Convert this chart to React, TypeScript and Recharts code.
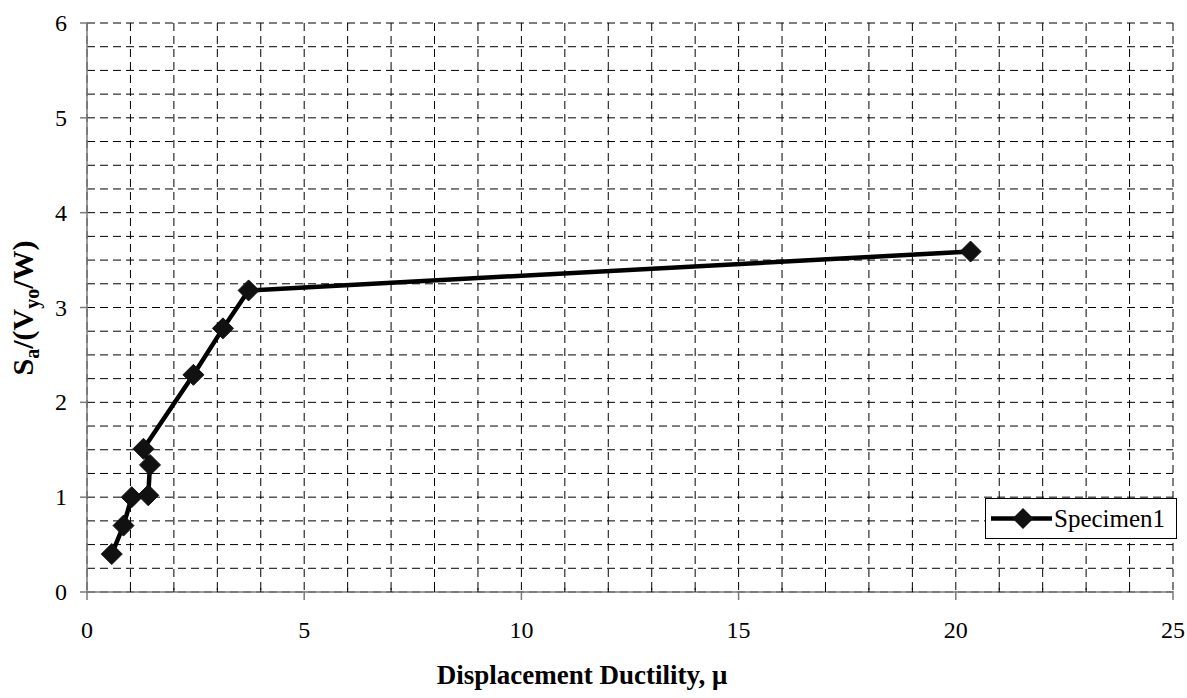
import React from "react"
import { LineChart, Line, XAxis, YAxis, CartesianGrid } from "recharts"

// displacement ductility (x) and normalised spectral acceleration (y)
const mu = [0.57, 0.84, 1.03, 1.41, 1.45, 1.3, 2.45, 3.13, 3.72, 20.34]
const sa = [0.4, 0.7, 1.0, 1.02, 1.34, 1.51, 2.29, 2.78, 3.18, 3.59]

const xTicks = [0, 1, 2, 3, 4, 5, 6, 7, 8, 9, 10, 11, 12, 13, 14, 15, 16, 17, 18, 19, 20, 21, 22, 23, 24, 25]
const yTicks = [
  0, 0.25, 0.5, 0.75, 1, 1.25, 1.5, 1.75, 2, 2.25, 2.5, 2.75, 3, 3.25, 3.5, 3.75, 4, 4.25, 4.5, 4.75, 5, 5.25,
  5.5, 5.75, 6,
]
const seriesName = "Specimen1"

const data = mu.map((m, i) => ({ mu: m, sa: sa[i] }))

const FONT = "Liberation Serif"
const AXIS = "#7a7a7a"

const XTick = (props: any) => {
  const { x, y, payload } = props
  const major = payload.value % 5 === 0
  return (
    <g>
      {major ? (
        <line x1={x} x2={x} y1={y - 1} y2={y + 8} stroke={AXIS} strokeWidth={1.5} />
      ) : (
        <line x1={x} x2={x} y1={y - 4} y2={y} stroke="#000" strokeWidth={1} />
      )}
      {major && (
        <text x={x} y={y + 46} textAnchor="middle" style={{ fontFamily: FONT }} fontSize={24} fill="#000">
          {payload.value}
        </text>
      )}
    </g>
  )
}

const YTick = (props: any) => {
  const { x, y, payload } = props
  if (payload.value % 1 !== 0) return <g />
  return (
    <g>
      <line x1={x - 7} x2={x} y1={y} y2={y} stroke={AXIS} strokeWidth={1.5} />
      <text x={x - 20} y={y + 8} textAnchor="end" style={{ fontFamily: FONT }} fontSize={24} fill="#000">
        {payload.value}
      </text>
    </g>
  )
}

const Diamond = (props: any) => {
  const { cx, cy, index } = props
  const r = 10.5
  return (
    <path
      key={`d-${index}`}
      d={`M${cx},${cy - r} L${cx + r},${cy} L${cx},${cy + r} L${cx - r},${cy} Z`}
      fill="#111"
      stroke="#111"
    />
  )
}

const LegendBox = () => (
  <div
    style={{
      position: "absolute",
      left: 985,
      top: 498,
      width: 192,
      height: 41,
      border: "1px solid #000",
      background: "#fff",
      display: "flex",
      alignItems: "center",
      fontFamily: FONT,
      fontSize: 25,
      boxSizing: "border-box",
    }}
  >
    <svg width={68} height={39}>
      <line x1={5} x2={66} y1={19.5} y2={19.5} stroke="#000" strokeWidth={4.5} />
      <path d="M37,9 L47.5,19.5 L37,30 L26.5,19.5 Z" fill="#111" />
    </svg>
    <span>{seriesName}</span>
  </div>
)

export default function App() {
  return (
    <div style={{ position: "relative", width: 1187, height: 698, background: "#fff" }}>
      <style>{`body{margin:0}`}</style>
      <LineChart width={1187} height={698} data={data} margin={{ top: 23, right: 14, bottom: 0, left: 0 }}>
        <CartesianGrid stroke="#000" strokeDasharray="8 5" strokeWidth={1} />
        <XAxis
          type="number"
          dataKey="mu"
          domain={[0, 25]}
          ticks={xTicks}
          interval={0}
          height={106}
          tickSize={0}
          tickMargin={0}
          tickLine={false}
          stroke={AXIS}
          strokeWidth={1.5}
          tick={<XTick />}
          label={{
            content: () => (
              <text
                x={582}
                y={684}
                textAnchor="middle"
                style={{ fontFamily: FONT }}
                fontSize={27}
                fontWeight="bold"
                fill="#000"
              >
                Displacement Ductility, μ
              </text>
            ),
          }}
        />
        <YAxis
          type="number"
          dataKey="sa"
          domain={[0, 6]}
          ticks={yTicks}
          interval={0}
          width={87}
          tickSize={0}
          tickMargin={0}
          tickLine={false}
          stroke={AXIS}
          strokeWidth={1.5}
          tick={<YTick />}
          label={{
            content: () => (
              <text
                x={0}
                y={0}
                transform="translate(33,308) rotate(-90)"
                textAnchor="middle"
                style={{ fontFamily: FONT }}
                fontSize={30}
                fontWeight="bold"
                fill="#000"
              >
                S
                <tspan fontSize={20} dy={6}>a</tspan>
                <tspan dy={-6}>/(V</tspan>
                <tspan fontSize={20} dy={6}>yo</tspan>
                <tspan dy={-6}>/W)</tspan>
              </text>
            ),
          }}
        />
        <Line
          type="linear"
          dataKey="sa"
          name={seriesName}
          stroke="#000"
          strokeWidth={4.5}
          dot={<Diamond />}
          activeDot={false}
          isAnimationActive={false}
        />
      </LineChart>
      <LegendBox />
    </div>
  )
}
